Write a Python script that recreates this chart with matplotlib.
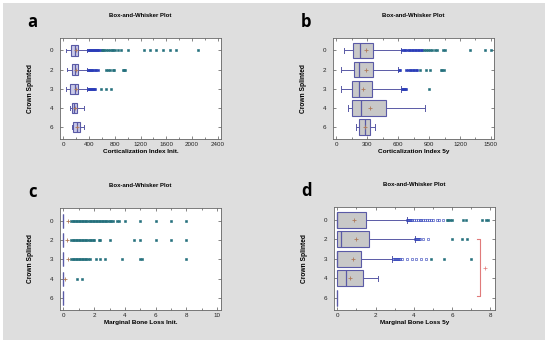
import numpy as np
import matplotlib
matplotlib.use("Agg")
import matplotlib.pyplot as plt
from matplotlib.patches import Rectangle
from matplotlib.ticker import AutoMinorLocator

# ------------------ DATA ------------------ #
cats = ["0", "2", "3", "4", "6"]

# a) Corticalization Index Init.
a_lo   = [45, 57, 42, 104, 130]
a_q1   = [120, 130, 105, 130, 145]
a_med  = [182, 182, 182, 171, 208]
a_q3   = [223, 223, 223, 213, 265]
a_hi   = [370, 370, 370, 317, 317]
a_mean = [205, 200, 195, 180, 215]
a_near = [[390, 405, 420, 435, 450, 465, 480, 495, 510, 525, 540, 560, 580],
          [390, 405, 420, 435, 450, 470, 490, 510, 540],
          [385, 400, 415, 430, 445, 460, 475, 490],
          [], []]
a_far  = [[600, 620, 640, 660, 690, 720, 750, 780, 810, 850, 890,
           1010, 1250, 1350, 1445, 1550, 1665, 1755, 2095],
          [670, 690, 720, 770, 790, 930, 950, 965],
          [590, 665, 745],
          [], []]

# b) Corticalization Index 5y
b_lo   = [73, 46, 46, 116, 188]
b_q1   = [162, 172, 149, 149, 221]
b_med  = [228, 221, 215, 238, 280]
b_q3   = [353, 353, 346, 485, 330]
b_hi   = [630, 600, 627, 858, 370]
b_mean = [287, 287, 261, 330, 280]
b_near = [[640, 655, 670, 685, 700, 715, 730, 745, 760, 775, 790, 805, 820, 835],
          [605, 620, 680, 695, 710, 725, 740, 755, 770, 785],
          [640, 650, 660, 670, 680],
          [], []]
b_far  = [[850, 870, 890, 910, 930, 960, 980, 1035, 1050, 1300, 1445, 1505],
          [810, 865, 905, 1020, 1030, 1045],
          [895],
          [], []]

# c) Marginal Bone Loss Init. (all boxes collapsed at 0)
c_lo   = [0, 0, 0, 0, 0]
c_q1   = [0, 0, 0, 0, 0]
c_med  = [0, 0, 0, 0, 0]
c_q3   = [0, 0, 0, 0, 0]
c_hi   = [0, 0, 0, 0, 0]
c_mean = [0.28, 0.26, 0.27, 0.1, np.nan]
c_near = [[], [], [], [], []]
c_far  = [[0.5, 0.6, 0.7, 0.8, 0.9, 1.0, 1.1, 1.2, 1.3, 1.4, 1.5, 1.6, 1.7, 1.8,
           1.9, 2.0, 2.1, 2.2, 2.3, 2.4, 2.5, 2.6, 2.7, 2.8, 2.9, 3.0, 3.1, 3.2,
           3.5, 3.6, 4.0, 5.0, 6.0, 7.0, 8.0],
          [0.5, 0.6, 0.7, 0.8, 0.9, 1.0, 1.1, 1.2, 1.3, 1.4, 1.5, 1.6, 1.7, 1.8,
           1.9, 2.0, 2.3, 2.4, 3.0, 4.6, 5.0, 6.0, 7.0, 8.0],
          [0.5, 0.6, 0.7, 0.8, 0.9, 1.0, 1.1, 1.2, 1.3, 1.4, 1.5, 1.6, 1.7,
           2.1, 2.4, 2.7, 3.8, 5.0, 5.1, 8.0],
          [0.9, 1.2],
          []]

# d) Marginal Bone Loss 5y
d_lo   = [0, 0, 0, 0, 0]
d_q1   = [0, 0, 0, 0, 0]
d_med  = [0.0, 0.17, 0.0, 0.44, 0]
d_q3   = [1.5, 1.66, 1.24, 1.33, 0]
d_hi   = [3.62, 4.04, 2.88, 2.11, 0]
d_mean = [0.87, 0.96, 0.84, 0.66, np.nan]
d_near = [[3.65, 3.7, 3.75, 3.8, 3.85, 3.9, 4.0, 4.1, 4.2, 4.3, 4.4, 4.5, 4.6,
           4.7, 4.8, 4.9, 5.0, 5.2, 5.3, 5.5],
          [4.05, 4.1, 4.15, 4.2, 4.25, 4.3, 4.5, 4.75],
          [2.9, 2.95, 3.0, 3.05, 3.1, 3.15, 3.2, 3.3, 3.4, 3.65, 3.9, 4.1, 4.4, 4.65],
          [], []]
d_far  = [[5.75, 5.8, 5.9, 6.0, 6.55, 6.75, 7.55, 7.75, 7.85],
          [6.0, 6.5, 6.8],
          [4.9, 5.55, 7.0],
          [], []]
# red bracket in panel d
br_x, br_top, br_bot, br_tick = 7.48, 2.0, 4.88, 0.17
br_plus = (7.74, 3.45)
# ------------------------------------------ #

FONT = "Liberation Sans"
EDGE = "#5a5aa6"
MEAN_C = "#b07a5a"
NEAR_C = "#2a3cb8"
FAR_C = "#236f7c"

fig = plt.figure(figsize=(5.5, 3.46), dpi=100)
fig.patch.set_facecolor("white")
bg = Rectangle((3 / 550, 6 / 346), 542 / 550, 337 / 346, transform=fig.transFigure,
               facecolor="#dedede", edgecolor="none", zorder=-10)
fig.add_artist(bg)

panels = [
    dict(letter="a", rect=[60, 38, 161, 101], xlim=(-50, 2450), ticks=[0, 400, 800, 1200, 1600, 2000, 2400],
         xlabel="Corticalization Index Init.", fill="#cacae8", width=0.55,
         lo=a_lo, q1=a_q1, med=a_med, q3=a_q3, hi=a_hi, mean=a_mean, near=a_near, far=a_far),
    dict(letter="b", rect=[333, 38, 161, 101], xlim=(-33, 1530), ticks=[0, 300, 600, 900, 1200, 1500],
         xlabel="Corticalization Index 5y", fill="#c8c8c8", width=0.82,
         lo=b_lo, q1=b_q1, med=b_med, q3=b_q3, hi=b_hi, mean=b_mean, near=b_near, far=b_far),
    dict(letter="c", rect=[60, 208, 161, 102], xlim=(-0.22, 10.25), ticks=[0, 2, 4, 6, 8, 10],
         xlabel="Marginal Bone Loss Init.", fill="#cacae8", width=0.72,
         lo=c_lo, q1=c_q1, med=c_med, q3=c_q3, hi=c_hi, mean=c_mean, near=c_near, far=c_far),
    dict(letter="d", rect=[334, 207, 161, 103], xlim=(-0.17, 8.24), ticks=[0, 2, 4, 6, 8],
         xlabel="Marginal Bone Loss 5y", fill="#c8c8c8", width=0.82,
         lo=d_lo, q1=d_q1, med=d_med, q3=d_q3, hi=d_hi, mean=d_mean, near=d_near, far=d_far),
]

pos = np.arange(1, len(cats) + 1)

for p in panels:
    l, t, w, h = p["rect"]
    ax = fig.add_axes([l / 550, (346 - t - h) / 346, w / 550, h / 346])
    ax.set_facecolor("white")
    stats = []
    for i in range(len(cats)):
        stats.append(dict(whislo=p["lo"][i], q1=p["q1"][i], med=p["med"][i],
                          q3=p["q3"][i], whishi=p["hi"][i], fliers=[]))
    ax.bxp(stats, positions=pos, orientation="horizontal", widths=p["width"], patch_artist=True,
           showfliers=False, capwidths=p["width"] * 0.35,
           boxprops=dict(facecolor=p["fill"], edgecolor=EDGE, linewidth=0.8),
           medianprops=dict(color=EDGE, linewidth=0.9),
           whiskerprops=dict(color=EDGE, linewidth=0.7),
           capprops=dict(color=EDGE, linewidth=0.7))
    for i in range(len(cats)):
        if p["near"][i]:
            ax.plot(p["near"][i], [pos[i]] * len(p["near"][i]), "s", ms=2.1,
                    color=NEAR_C, mec=NEAR_C, mew=0.4,
                    mfc="none" if p["letter"] == "d" else NEAR_C, zorder=3)
        if p["far"][i]:
            ax.plot(p["far"][i], [pos[i]] * len(p["far"][i]), "s", ms=2.1,
                    color=FAR_C, mew=0.4, zorder=3)
    ax.plot(p["mean"], pos, "+", ms=3, mew=0.6, color=MEAN_C, ls="none", zorder=4)

    if p["letter"] == "d":
        ax.plot([br_x - br_tick, br_x, br_x, br_x - br_tick],
                [br_top, br_top, br_bot, br_bot], color="#e07a7a", lw=0.8)
        ax.plot([br_plus[0]], [br_plus[1]], "+", ms=2.5, mew=0.5, color="#e07a7a")

    ax.set_xlim(*p["xlim"])
    ax.set_ylim(5.62, 0.35)
    ax.set_xticks(p["ticks"])
    ax.set_xticklabels([str(v) for v in p["ticks"]], fontsize=4.5, family=FONT, color="#222222")
    ax.set_yticks(pos)
    ax.set_yticklabels(cats, fontsize=4.5, family=FONT, color="#222222")
    ax.xaxis.set_minor_locator(AutoMinorLocator(2))
    ax.tick_params(axis="both", which="both", direction="in", top=True, right=True,
                   length=2, width=0.5, color="#555555", pad=2)
    ax.tick_params(axis="y", pad=5)
    ax.tick_params(which="minor", length=1.2)
    for s in ax.spines.values():
        s.set_color("#666666")
        s.set_linewidth(0.6)
    ax.set_xlabel(p["xlabel"], fontsize=4.6, family=FONT, fontweight="bold", labelpad=1.5)
    ax.set_ylabel("Crown Splinted", fontsize=4.8, family=FONT, fontweight="bold", labelpad=11)
    ax.set_title("Box-and-Whisker Plot", fontsize=4.3, family=FONT, fontweight="bold", pad=15)
    ax.text(-0.17, 1.16, p["letter"], transform=ax.transAxes, fontsize=12,
            fontweight="bold", family="Open Sans", ha="center", va="center")

fig.savefig("out.png", dpi=100)
